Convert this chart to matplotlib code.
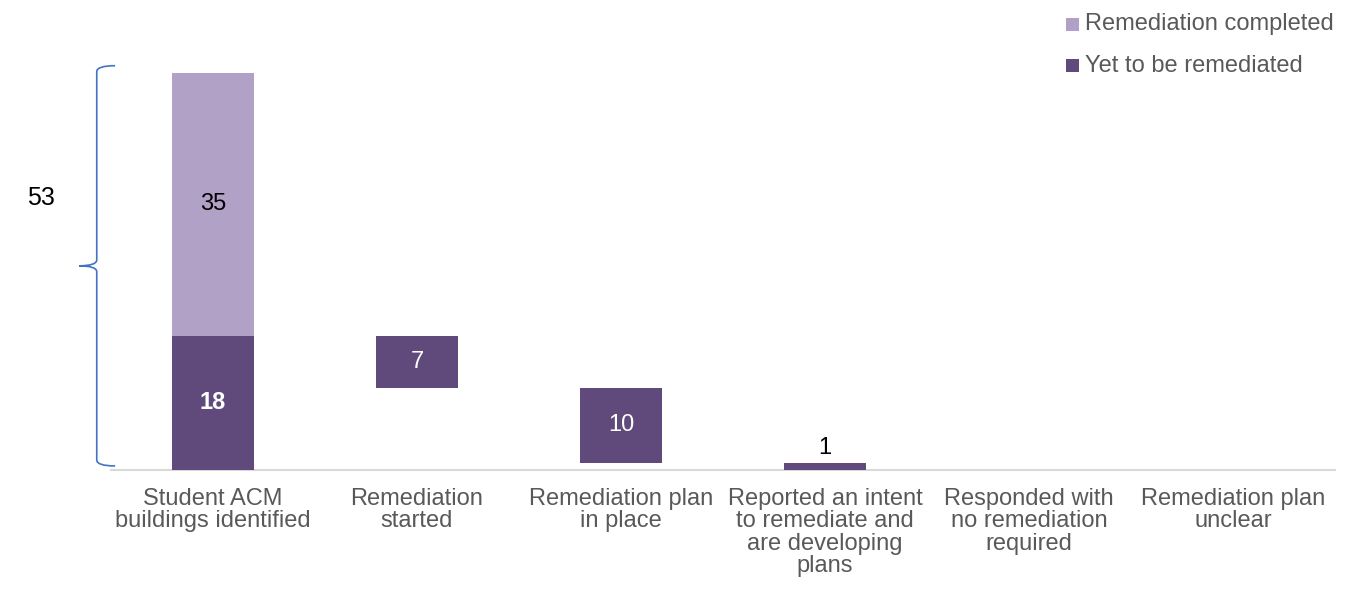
import matplotlib
matplotlib.use("Agg")
import matplotlib.pyplot as plt
from matplotlib.path import Path
from matplotlib.patches import PathPatch, Rectangle

plt.rcParams['font.family'] = ['Liberation Sans', 'DejaVu Sans']

categories = ["Student ACM\nbuildings identified", "Remediation\nstarted",
              "Remediation plan\nin place",
              "Reported an intent\nto remediate and\nare developing\nplans",
              "Responded with\nno remediation\nrequired", "Remediation plan\nunclear"]
completed = [35, 0, 0, 0, 0, 0]
yet = [18, 7, 10, 1, 0, 0]
total = 53
legend_labels = ["Remediation completed", "Yet to be remediated"]

light = "#B2A1C7"
dark = "#604A7B"
W, H = 1354, 594

fig = plt.figure(figsize=(W / 100, H / 100), dpi=100)
ax = fig.add_axes([0.082, 0.208, 0.904, 0.694])

x = list(range(len(categories)))
bottoms = []
level = yet[0]
for i, v in enumerate(yet):
    if i == 0:
        bottoms.append(0)
    else:
        level -= v
        bottoms.append(level)

w = 0.40
ax.bar(x, yet, bottom=bottoms, width=w, color=dark, zorder=3)
ax.bar(x[0], completed[0], bottom=yet[0], width=w, color=light, zorder=3)

fs = 17
ax.text(0, yet[0] + completed[0] / 2, str(completed[0]), ha='center', va='center', fontsize=fs, color='black')
ax.text(0, yet[0] / 2, str(yet[0]), ha='center', va='center', fontsize=fs, color='white', fontweight='bold')
for i in (1, 2):
    ax.text(i, bottoms[i] + yet[i] / 2, str(yet[i]), ha='center', va='center', fontsize=fs, color='white')
ax.text(3, bottoms[3] + yet[3] + 0.5, str(yet[3]), ha='center', va='bottom', fontsize=fs, color='black')

ax.set_xlim(-0.5, 5.5)
ax.set_ylim(0, 55)
ax.set_xticks(x)
ax.set_xticklabels(categories, fontsize=17, color='#595959', linespacing=1.03)
ax.tick_params(axis='x', length=0, pad=12.5)
ax.set_yticks([])
for s in ['top', 'right', 'left']:
    ax.spines[s].set_visible(False)
ax.spines['bottom'].set_color('#D9D9D9')
ax.spines['bottom'].set_linewidth(1.5)

# curly brace
xb = -0.57
xa = -0.48
xt = -0.657
y0, y1 = 0.6, 54.0
ym = 27.3
c = 0.8
verts = [(xa, y1), (xb, y1), (xb, y1 - c),
         (xb, ym + c), (xb, ym), (xt, ym),
         (xb, ym), (xb, ym - c),
         (xb, y0 + c), (xb, y0), (xa, y0)]
codes = [Path.MOVETO, Path.CURVE3, Path.CURVE3,
         Path.LINETO, Path.CURVE3, Path.CURVE3,
         Path.CURVE3, Path.CURVE3,
         Path.LINETO, Path.CURVE3, Path.CURVE3]
ax.add_patch(PathPatch(Path(verts, codes), facecolor='none', edgecolor='#4472C4', lw=1.2, clip_on=False))
fig.text(41 / W, 1 - 198 / H, str(total), ha='center', va='center', fontsize=18, color='black')

# legend
for k, (lab, col) in enumerate(zip(legend_labels, [light, dark])):
    yc = 24 + 41.5 * k
    fig.patches.append(Rectangle((1066 / W, 1 - (yc + 6.5) / H), 13 / W, 13 / H,
                                 transform=fig.transFigure, facecolor=col, edgecolor='none'))
    fig.text(1085 / W, 1 - yc / H, lab, ha='left', va='center', fontsize=17, color='#595959')

fig.savefig("out.png", dpi=100)
